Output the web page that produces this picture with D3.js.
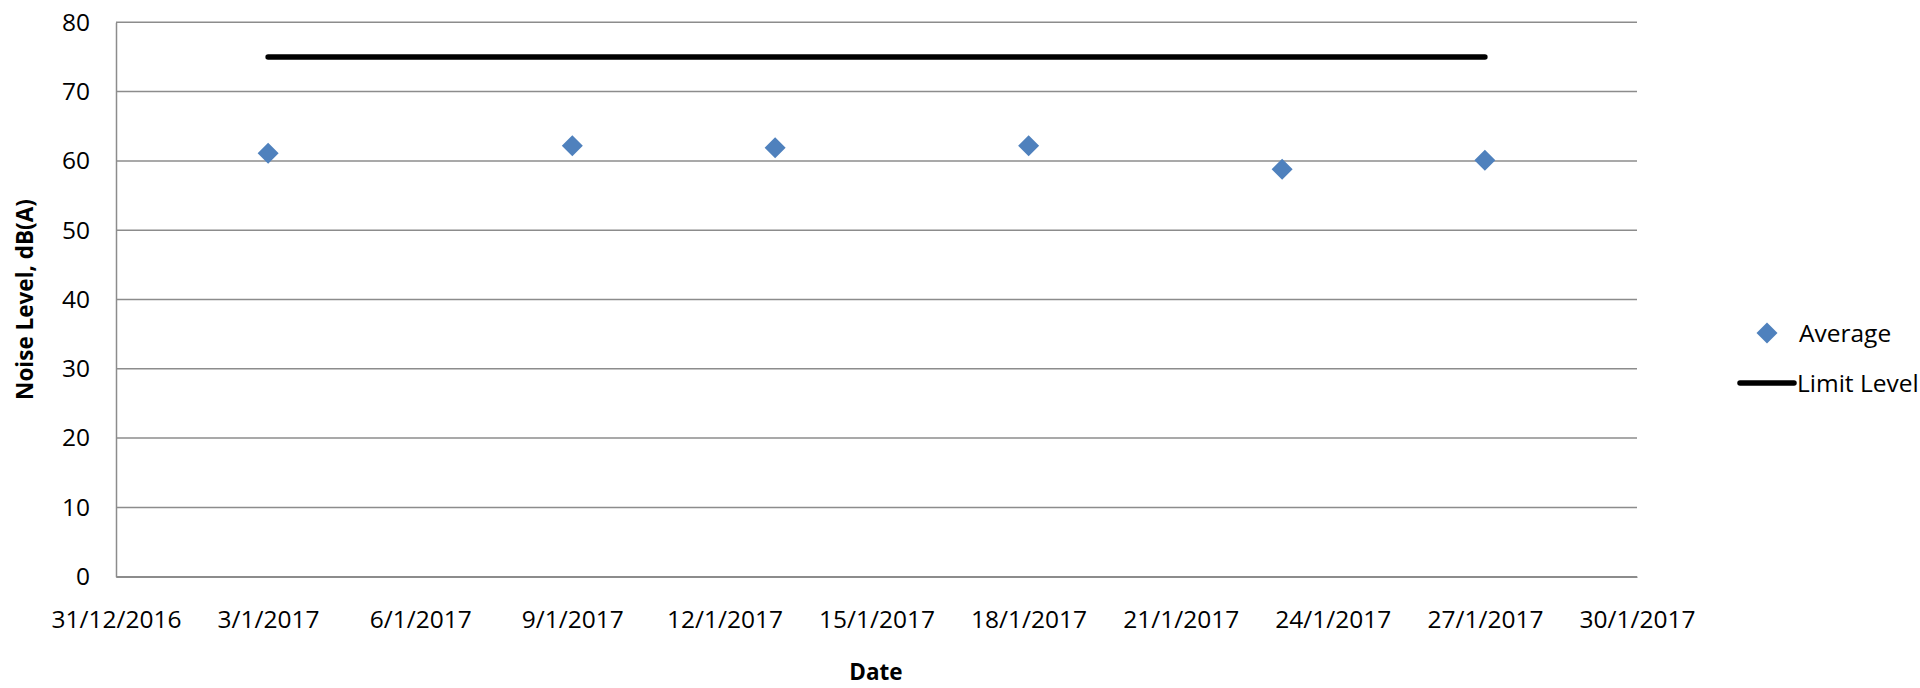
<!DOCTYPE html>
<html>
<head>
<meta charset="utf-8">
<script src="https://cdn.jsdelivr.net/npm/d3@7"></script>
<style>
  html, body { margin: 0; padding: 0; background: #fff; }
  svg { display: block; }
  text { font-family: "Open Sans", "Liberation Sans", sans-serif; fill: #000; }
</style>
</head>
<body>
<svg id="chart" width="1920" height="688"></svg>
<script>
// Measurement dates (January 2017) and averaged noise levels in dB(A)
const measureDates = ["2017-01-03", "2017-01-09", "2017-01-13", "2017-01-18", "2017-01-23", "2017-01-27"];
const averageLevels = [61.1, 62.2, 61.9, 62.2, 58.8, 60.1];

// Statutory limit, drawn across the monitoring period
const limitDates = ["2017-01-03", "2017-01-27"];
const limitLevels = [75, 75];

// Axis ticks
const xTickDates = ["2016-12-31", "2017-01-03", "2017-01-06", "2017-01-09", "2017-01-12", "2017-01-15",
                    "2017-01-18", "2017-01-21", "2017-01-24", "2017-01-27", "2017-01-30"];
const yTicks = [0, 10, 20, 30, 40, 50, 60, 70, 80];

const parse = d3.utcParse("%Y-%m-%d");
const fmt = d => `${d.getUTCDate()}/${d.getUTCMonth() + 1}/${d.getUTCFullYear()}`;

const svg = d3.select("#chart");
const plot = { left: 116, right: 1637, top: 22.3, bottom: 576.7 };
const tickFont = 24.5;

const x = d3.scaleUtc()
  .domain([parse("2016-12-31"), parse("2017-01-30")])
  .range([plot.left, plot.right]);
const y = d3.scaleLinear().domain([0, 80]).range([plot.bottom, plot.top]);

const gridColor = "#8c8c8c";

// Horizontal gridlines
svg.append("g")
  .selectAll("line")
  .data(yTicks)
  .join("line")
  .attr("x1", plot.left).attr("x2", plot.right)
  .attr("y1", d => y(d)).attr("y2", d => y(d))
  .attr("stroke", gridColor).attr("stroke-width", 1.5);

// Y axis
const yAxis = svg.append("g")
  .attr("transform", `translate(${plot.left},0)`)
  .call(d3.axisLeft(y).tickValues(yTicks).tickSize(0).tickPadding(26));
yAxis.select(".domain").attr("stroke", gridColor).attr("stroke-width", 1.5);
yAxis.selectAll("text").attr("font-size", tickFont).attr("font-family", "'Open Sans', sans-serif").attr("fill", "#000");

// X axis
const xAxis = svg.append("g")
  .attr("transform", `translate(0,${plot.bottom})`)
  .call(d3.axisBottom(x).tickValues(xTickDates.map(parse)).tickFormat(fmt).tickSize(0).tickPadding(34));
xAxis.select(".domain").attr("stroke", gridColor).attr("stroke-width", 1.5);
xAxis.selectAll("text").attr("font-size", tickFont).attr("font-family", "'Open Sans', sans-serif").attr("fill", "#000");

// Limit line
const limitData = limitDates.map((d, i) => ({ date: parse(d), value: limitLevels[i] }));
svg.append("path")
  .datum(limitData)
  .attr("d", d3.line().x(d => x(d.date)).y(d => y(d.value)))
  .attr("fill", "none").attr("stroke", "#000").attr("stroke-width", 5.5)
  .attr("stroke-linecap", "round");

// Average markers (diamonds, ~21px across)
const diamondPath = s => `M0,${-s}L${s},0L0,${s}L${-s},0Z`;
const avgData = measureDates.map((d, i) => ({ date: parse(d), value: averageLevels[i] }));
svg.append("g")
  .selectAll("path")
  .data(avgData)
  .join("path")
  .attr("d", diamondPath(10.5))
  .attr("transform", d => `translate(${x(d.date)},${y(d.value)})`)
  .attr("fill", "#4f81bd");

// Axis titles
svg.append("text")
  .attr("transform", `translate(33,${(plot.top + plot.bottom) / 2}) rotate(-90)`)
  .attr("text-anchor", "middle")
  .attr("font-size", 22.5).attr("font-weight", "bold")
  .text("Noise Level, dB(A)");

svg.append("text")
  .attr("x", 876).attr("y", 680)
  .attr("text-anchor", "middle")
  .attr("font-size", 22.5).attr("font-weight", "bold")
  .text("Date");

// Legend
const legend = svg.append("g");
legend.append("path")
  .attr("d", diamondPath(10.5))
  .attr("transform", "translate(1767,333)")
  .attr("fill", "#4f81bd");
legend.append("text")
  .attr("x", 1799).attr("y", 333).attr("dy", "0.35em")
  .attr("font-size", tickFont).text("Average");
legend.append("line")
  .attr("x1", 1740).attr("x2", 1794).attr("y1", 383).attr("y2", 383)
  .attr("stroke", "#000").attr("stroke-width", 5.5).attr("stroke-linecap", "round");
legend.append("text")
  .attr("x", 1797).attr("y", 383).attr("dy", "0.35em")
  .attr("font-size", tickFont).text("Limit Level");
</script>
</body>
</html>
